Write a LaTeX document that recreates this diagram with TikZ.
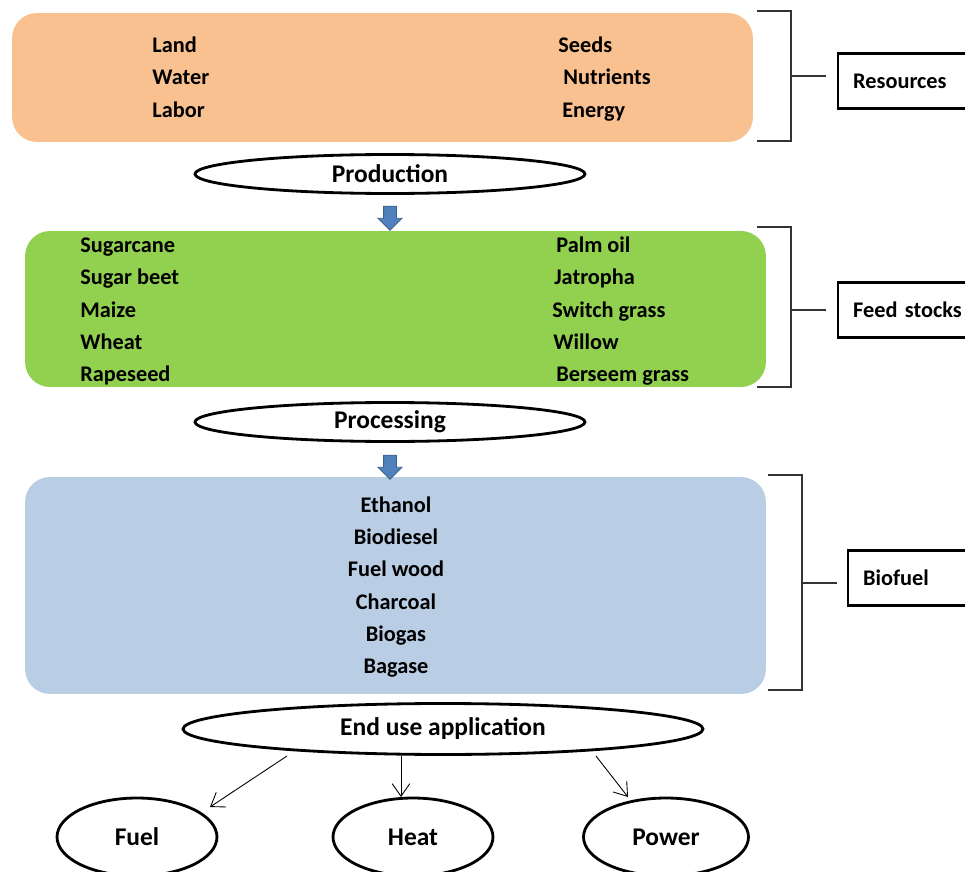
\documentclass[tikz,border=0pt]{standalone}
\usepackage{fontspec}
\setmainfont{Carlito}
\usetikzlibrary{shapes.geometric,shapes.arrows,arrows.meta}
\definecolor{resfill}{HTML}{F9C18F}
\definecolor{feedfill}{HTML}{92D050}
\definecolor{fuelfill}{HTML}{B9CDE5}
\definecolor{flowblue}{HTML}{4F81BD}
\tikzset{
  item/.style={anchor=west,inner sep=0pt,text height=11.3pt,text depth=2.5pt,
    font=\fontsize{12.7}{14}\selectfont\bfseries},
  midtext/.style={inner sep=0pt,text height=11.3pt,text depth=2.5pt,
    font=\fontsize{12.7}{14}\selectfont\bfseries},
  group/.style={rounded corners=0.5cm,minimum width=14.82cm,inner sep=0pt},
  stage/.style={draw,ellipse,line width=1.6pt,minimum width=7.8cm,minimum height=0.78cm,inner sep=0pt,
    font=\fontsize{14.5}{16}\selectfont\bfseries},
  usage/.style={draw,ellipse,line width=1.6pt,minimum width=3.2cm,minimum height=1.56cm,inner sep=0pt,
    font=\fontsize{14.5}{16}\selectfont\bfseries},
  tag/.style={draw,line width=1.3pt,anchor=west,minimum height=1.1cm,text width=3cm,
    inner xsep=0.3cm,font=\fontsize{12.7}{14}\selectfont\bfseries},
  brace/.style={line width=0.8pt,draw=black!80},
  downarrow/.style={single arrow,shape border rotate=270,fill=flowblue,draw=flowblue!75!black,
    line width=0.5pt,inner sep=0.12cm,minimum height=0.48cm,single arrow head extend=0.11cm},
  thin arrow/.style={line width=0.5pt,-{Straight Barb[length=2.5mm,width=3.5mm]}}
}
\begin{document}
\begin{tikzpicture}[x=0.02cm,y=-0.02cm]
\useasboundingbox (0,0) rectangle (965,872);
\clip (0,0) rectangle (965,872);
% coloured groups
\path node[group,fill=resfill,minimum height=2.58cm] (resbox) at (382.5,77.5) {}
node[group,fill=feedfill,minimum height=3.12cm] (feedbox) at (395.5,309) {}
node[group,fill=fuelfill,minimum height=4.34cm] (fuelbox) at (395.5,585.5) {}
;
\path node[item] (land) at (152,45) {Land}
node[item] (water) at (152,77) {Water}
node[item] (labor) at (152,110) {Labor}
node[item] (seeds) at (558,45) {Seeds}
node[item] (nutrients) at (563,77) {Nutrients}
node[item] (energy) at (562,110) {Energy}
;
\path node[item] (sugarcane) at (80,245) {Sugarcane}
node[item] (sugarbeet) at (80,277) {Sugar beet}
node[item] (maize) at (80,310) {Maize}
node[item] (wheat) at (80,342) {Wheat}
node[item] (rapeseed) at (80,374) {Rapeseed}
node[item] (palmoil) at (556,245) {Palm oil}
node[item] (jatropha) at (554,277) {Jatropha}
node[item] (switchgrass) at (552,310) {Switch grass}
node[item] (willow) at (553,342) {Willow}
node[item] (berseem) at (556,374) {Berseem grass}
;
\path node[midtext] (ethanol) at (396,505) {Ethanol}
node[midtext] (biodiesel) at (396,537) {Biodiesel}
node[midtext] (fuelwood) at (396,569) {Fuel wood}
node[midtext] (charcoal) at (396,602) {Charcoal}
node[midtext] (biogas) at (396,634) {Biogas}
node[midtext] (bagase) at (396,666) {Bagase}
;
% stages
\path node[stage] (production) at (390,174) {Production}
node[downarrow] (toFeed) at (390,215) {}
node[stage] (processing) at (390,422) {Processing}
node[downarrow] (toFuel) at (390,464) {}
node[stage,minimum width=10.4cm,minimum height=1.02cm] (enduse) at (443,729) {End use application}
node[usage] (fuel) at (137,837) {Fuel}
node[usage] (heat) at (413,837) {Heat}
node[usage,minimum width=3.3cm] (power) at (666,837) {Power}
;
\coordinate (fuelend) at (210,807);
\coordinate (heatend) at (401,797);
\coordinate (powerend) at (628,797);
\draw[thin arrow] (287,756) -- (fuelend);
\draw[thin arrow] (enduse.south -| heatend) -- (heatend);
\draw[thin arrow] (596,756) -- (powerend);
% side labels
\path node[tag] (resources) at (837,81) {Resources}
node[tag] (feedstocks) at (837,310) {Feed stocks}
node[tag] (biofuel) at (847,578) {Biofuel}
;
\coordinate (resbrace) at (791,76);
\coordinate (feedbrace) at (791,310);
\coordinate (fuelbrace) at (802,583);
\draw[brace] (757,11) -| (791,141) -- (757,141);
\draw[brace] (757,227) -| (791,387) -- (757,387);
\draw[brace] (768,475) -| (802,690) -- (768,690);
\draw[brace,shorten >=0.22cm] (resbrace) -- (resbrace -| resources.west);
\draw[brace,shorten >=0.22cm] (feedbrace) -- (feedbrace -| feedstocks.west);
\draw[brace,shorten >=0.2cm] (fuelbrace) -- (fuelbrace -| biofuel.west);
\end{tikzpicture}
\end{document}
